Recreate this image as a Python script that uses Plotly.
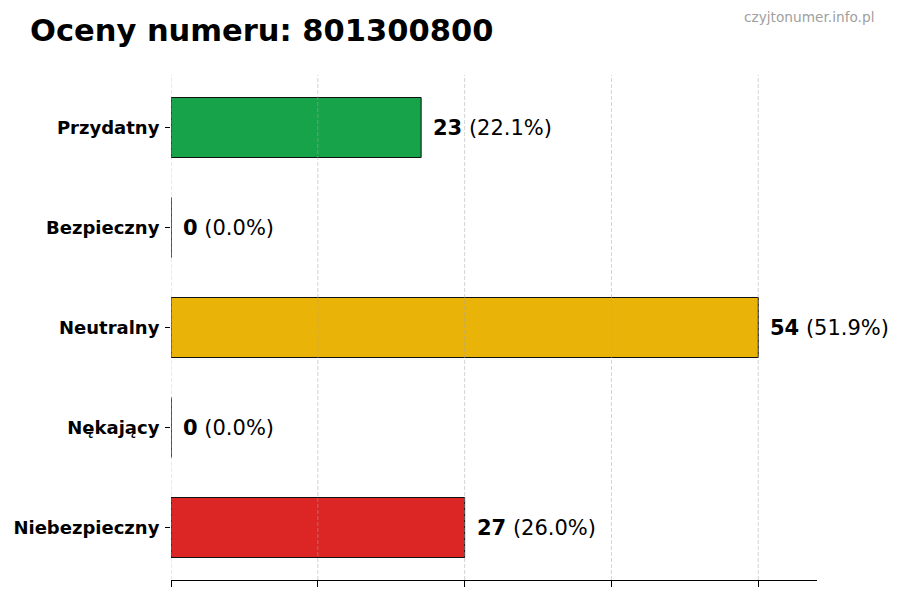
import plotly.graph_objects as go

categories = ['Przydatny', 'Bezpieczny', 'Neutralny', 'Nękający', 'Niebezpieczny']
counts = [23, 0, 54, 0, 27]
colors = ['#16a34a', '#9ca3af', '#eab308', '#f97316', '#dc2626']
x_ticks = [0, 13.5, 27, 40.5, 54]

total = sum(counts)
labels = ['<b>%d</b> (%.1f%%)' % (c, 100.0 * c / total) for c in counts]

fig = go.Figure(go.Bar(
    y=categories, x=counts, orientation='h', width=0.6,
    marker=dict(color=colors, line=dict(color='#111111', width=1)),
    hoverinfo='skip'))

for cat, c, lab in zip(categories, counts, labels):
    fig.add_annotation(x=c, y=cat, text=lab, showarrow=False, xanchor='left',
                       xshift=10, font=dict(size=21, color='black'))

# dashed grid drawn on top of the bars, like the original
for t in x_ticks:
    fig.add_shape(type='line', x0=t, x1=t, y0=0, y1=1, xref='x', yref='paper',
                  layer='above', line=dict(color='rgba(170,170,170,0.5)', width=1, dash='4px,2px'))

fig.add_annotation(text='<b>Oceny numeru: 801300800</b>', xref='paper', yref='paper',
                   x=-0.2213, y=1.0, xanchor='left', yanchor='bottom', yshift=25,
                   showarrow=False, font=dict(size=30.5, color='black'))
fig.add_annotation(text='czyjtonumer.info.pl', xref='paper', yref='paper',
                   x=1.0913, y=1.0, xanchor='right', yanchor='bottom', yshift=48,
                   showarrow=False, font=dict(size=13.7, color='#a0a0a0'))

fig.update_layout(
    width=900, height=600, plot_bgcolor='white', paper_bgcolor='white',
    margin=dict(l=163, r=91, t=67, b=28, autoexpand=False), showlegend=False,
    font=dict(family='DejaVu Sans', color='black'),
    xaxis=dict(range=[0, max(counts) * 1.1], tickvals=x_ticks, showticklabels=False,
               ticks='outside', ticklen=6, tickcolor='black', showline=True,
               linecolor='black', linewidth=1, showgrid=False, zeroline=False,
               automargin=False),
    yaxis=dict(categoryorder='array', categoryarray=categories, autorange=False,
               range=[4.525, -0.525], ticks='outside', ticklen=5, tickcolor='black',
               showline=False, showgrid=False, zeroline=False, automargin=False,
               tickfont=dict(size=18, color='black', family='DejaVu Sans'),
               ticklabelstandoff=2),
)
fig.update_yaxes(tickprefix='<b>', ticksuffix='</b>')

fig.write_html('out.html')
